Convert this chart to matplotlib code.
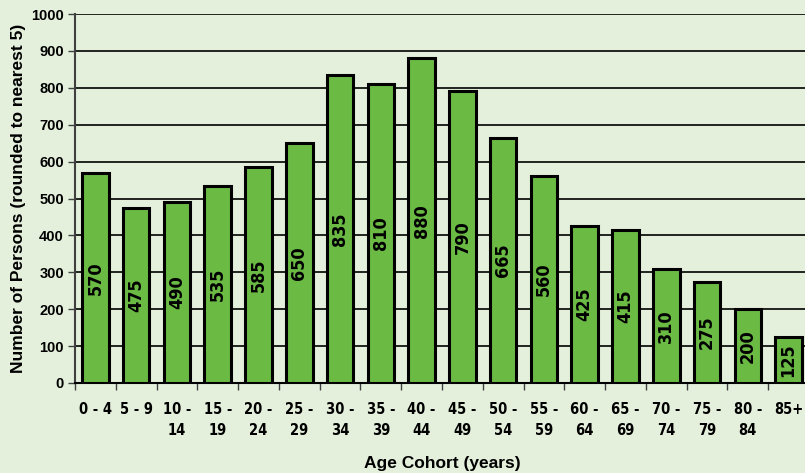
import matplotlib
matplotlib.use("Agg")
import matplotlib.pyplot as plt
import numpy as np

categories = ["0 - 4", "5 - 9", "10 -\n14", "15 -\n19", "20 -\n24", "25 -\n29", "30 -\n34",
              "35 -\n39", "40 -\n44", "45 -\n49", "50 -\n54", "55 -\n59", "60 -\n64", "65 -\n69",
              "70 -\n74", "75 -\n79", "80 -\n84", "85+"]
values = [570, 475, 490, 535, 585, 650, 835, 810, 880, 790, 665, 560, 425, 415, 310, 275, 200, 125]
yticks = list(range(0, 1001, 100))

bg = "#e4f0dc"
bar_color = "#6aba44"
arial = ["Liberation Sans", "DejaVu Sans"]

fig = plt.figure(figsize=(8.05, 4.73), dpi=100, facecolor=bg)
ax = fig.add_axes([75/805, 1 - 383/473, (809 - 75)/805, (383 - 14)/473])
ax.set_facecolor(bg)

x = np.arange(len(values))
ax.set_xlim(-0.5, len(values) - 0.5)
ax.set_ylim(0, 1000)
ax.yaxis.grid(True, color="black", linewidth=1.2, zorder=0)
ax.set_axisbelow(True)
ax.bar(x, values, width=0.65, color=bar_color, edgecolor="black", linewidth=2.2, zorder=3)

for xi, v in zip(x, values):
    ax.text(xi, v / 2, str(v), rotation=90, ha="center", va="center",
            fontsize=13, fontweight="bold", family="DejaVu Sans", fontstretch="condensed", zorder=4)

ax.set_yticks(yticks)
ax.set_yticklabels([str(t) for t in yticks], fontsize=10.5, fontweight="bold", family=arial)
ax.tick_params(axis="y", length=5, width=1, color="#404040", pad=3)

ax.set_xticks(x)
ax.set_xticklabels(categories, fontsize=10.5, fontweight="bold", family="DejaVu Sans",
                   fontstretch="condensed", linespacing=1.5)
ax.tick_params(axis="x", length=0, pad=14)
ax.set_xticks(np.arange(len(values) + 1) - 0.5, minor=True)
ax.tick_params(axis="x", which="minor", length=5, width=1, color="#404040")

for s in ["top", "right"]:
    ax.spines[s].set_visible(False)
ax.spines["left"].set_color("#404040")
ax.spines["left"].set_linewidth(1.5)
ax.spines["bottom"].set_color("black")
ax.spines["bottom"].set_linewidth(1.5)

ax.set_ylabel("Number of Persons (rounded to nearest 5)", fontsize=12.5, fontweight="bold", family=arial, labelpad=4)
fig.text(442/805, 1 - 463/473, "Age Cohort (years)", ha="center", va="center",
         fontsize=12.5, fontweight="bold", family=arial)

fig.savefig("out.png", dpi=100, facecolor=bg)
